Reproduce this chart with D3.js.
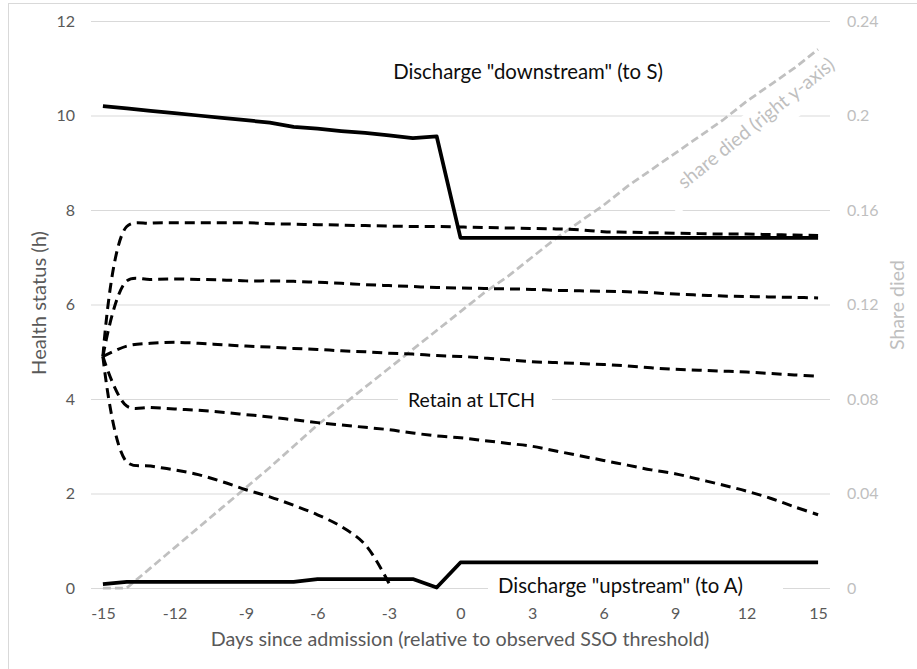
<!DOCTYPE html>
<html>
<head>
<meta charset="utf-8">
<script src="https://cdn.jsdelivr.net/npm/d3@7/dist/d3.min.js"></script>
<style>
  body { margin: 0; background: #fff; }
  text { font-family: Lato, 'Open Sans', sans-serif; }
</style>
</head>
<body>
<script>
// categories: days relative to the observed SSO threshold
var days = [-15, -14, -13, -12, -11, -10, -9, -8, -7, -6, -5, -4, -3, -2, -1, 0,
  1, 2, 3, 4, 5, 6, 7, 8, 9, 10, 11, 12, 13, 14, 15]
var xTicks = [-15, -12, -9, -6, -3, 0, 3, 6, 9, 12, 15]
var leftTicks = [0, 2, 4, 6, 8, 10, 12]
var rightTicks = [0, 0.04, 0.08, 0.12, 0.16, 0.2, 0.24]

// health status thresholds (left axis)
var downstream = [10.2, 10.15, 10.1, 10.05, 10.0, 9.95, 9.9, 9.85, 9.76, 9.72, 9.67, 9.63, 9.58, 9.52, 9.56,
  7.41, 7.41, 7.41, 7.41, 7.41, 7.41, 7.41, 7.41, 7.41, 7.41, 7.41, 7.41, 7.41, 7.41, 7.41, 7.41]
var upstream = [0.08, 0.13, 0.13, 0.13, 0.13, 0.13, 0.13, 0.13, 0.13, 0.19, 0.19, 0.19, 0.19, 0.19, 0.01,
  0.54, 0.54, 0.54, 0.54, 0.54, 0.54, 0.54, 0.54, 0.54, 0.54, 0.54, 0.54, 0.54, 0.54, 0.54, 0.54]
var retainA = [4.9, 7.65, 7.72, 7.73, 7.73, 7.73, 7.73, 7.71, 7.7, 7.69, 7.68, 7.67, 7.66, 7.65, 7.65, 7.64,
  7.63, 7.62, 7.61, 7.6, 7.58, 7.54, 7.53, 7.52, 7.51, 7.5, 7.49, 7.49, 7.48, 7.47, 7.46]
var retainB = [4.9, 6.5, 6.53, 6.54, 6.53, 6.52, 6.5, 6.5, 6.49, 6.47, 6.45, 6.42, 6.4, 6.38, 6.36, 6.35,
  6.34, 6.33, 6.32, 6.3, 6.29, 6.28, 6.27, 6.25, 6.22, 6.2, 6.18, 6.17, 6.16, 6.15, 6.14]
var retainC = [4.9, 5.12, 5.18, 5.2, 5.18, 5.15, 5.12, 5.1, 5.07, 5.05, 5.02, 5.0, 4.97, 4.95, 4.92, 4.9,
  4.87, 4.83, 4.79, 4.77, 4.75, 4.73, 4.7, 4.66, 4.63, 4.61, 4.59, 4.57, 4.54, 4.51, 4.48]
var retainD = [4.9, 3.85, 3.82, 3.79, 3.76, 3.72, 3.67, 3.62, 3.56, 3.5, 3.45, 3.4, 3.35, 3.28, 3.22, 3.18,
  3.12, 3.06, 3.0, 2.9, 2.8, 2.7, 2.6, 2.5, 2.42, 2.3, 2.18, 2.05, 1.9, 1.72, 1.55]
var retainE = [4.9, 2.67, 2.58, 2.5, 2.4, 2.25, 2.08, 1.93, 1.75, 1.55, 1.3, 0.92, 0.1]

// share died (right axis)
var shareDied = [0, 0, 0.0085, 0.017, 0.0255, 0.034, 0.0425, 0.051, 0.06, 0.069, 0.077, 0.085, 0.093, 0.101,
  0.109, 0.117, 0.125, 0.132, 0.14, 0.148, 0.155, 0.162, 0.17, 0.177, 0.184, 0.191, 0.198, 0.206, 0.213, 0.22, 0.228]

var W = 917
var H = 669
var svg = d3.select('body').append('svg')
  .attr('width', W)
  .attr('height', H)

var x = d3.scalePoint().domain(days).range([91, 830]).padding(0.5)
var y = d3.scaleLinear().domain([0, 12]).range([588, 21])
var y2 = d3.scaleLinear().domain([0, 0.24]).range([588, 21])

// chart frame (only top and left edges are inside the picture)
svg.append('rect')
  .attr('x', 8.5).attr('y', 3.5)
  .attr('width', 1000).attr('height', 1000)
  .attr('fill', 'none')
  .attr('stroke', '#d9d9d9')

// left axis with gridlines
var gLeft = svg.append('g')
  .attr('transform', 'translate(91,0)')
  .call(d3.axisLeft(y).tickValues(leftTicks).tickSize(-739).tickPadding(16))
gLeft.select('.domain').remove()
gLeft.selectAll('line').attr('stroke', '#d9d9d9')
gLeft.selectAll('text').attr('fill', '#595959').attr('font-size', 16).attr('font-family', 'Lato')

// right axis
var gRight = svg.append('g')
  .attr('transform', 'translate(830,0)')
  .call(d3.axisRight(y2).tickValues(rightTicks).tickSize(0).tickPadding(17).tickFormat(function (d) { return String(d) }))
gRight.select('.domain').remove()
gRight.selectAll('text').attr('fill', '#bfbfbf').attr('font-size', 16).attr('font-family', 'Lato')

// bottom axis
var gBottom = svg.append('g')
  .attr('transform', 'translate(0,588)')
  .call(d3.axisBottom(x).tickValues(xTicks).tickSize(0).tickPadding(20))
gBottom.select('.domain').remove()
gBottom.selectAll('text').attr('fill', '#595959').attr('font-size', 16).attr('font-family', 'Lato')

function fitWidth (sel, w) {
  var len = sel.node().getComputedTextLength()
  var fs = parseFloat(sel.attr('font-size'))
  sel.attr('font-size', fs * w / len)
  return sel
}

// axis titles
fitWidth(svg.append('text')
  .attr('x', 460).attr('y', 646)
  .attr('text-anchor', 'middle')
  .attr('fill', '#595959')
  .attr('font-size', 18)
  .text('Days since admission (relative to observed SSO threshold)'), 499)

fitWidth(svg.append('text')
  .attr('transform', 'translate(46,303) rotate(-90)')
  .attr('text-anchor', 'middle')
  .attr('fill', '#595959')
  .attr('font-size', 18)
  .text('Health status (h)'), 144)

fitWidth(svg.append('text')
  .attr('transform', 'translate(904,305) rotate(-90)')
  .attr('text-anchor', 'middle')
  .attr('fill', '#bfbfbf')
  .attr('font-size', 18)
  .text('Share died'), 90)

// white label boxes hiding the gridlines
svg.append('rect').attr('x', 398).attr('y', 388).attr('width', 154).attr('height', 26).attr('fill', '#fff')
svg.append('rect').attr('x', 488).attr('y', 573).attr('width', 295).attr('height', 27).attr('fill', '#fff')
var gShare = svg.append('g').attr('transform', 'translate(756,123) rotate(-39)')
gShare.append('rect').attr('x', -118).attr('y', -14).attr('width', 228).attr('height', 36).attr('fill', '#fff')

// series
function pts (arr) {
  return days.map(function (d, i) { return [d, arr[i]] })
}
var lineLeft = d3.line()
  .defined(function (d) { return d[1] != null })
  .x(function (d) { return x(d[0]) })
  .y(function (d) { return y(d[1]) })
var smoothLeft = d3.line()
  .defined(function (d) { return d[1] != null })
  .x(function (d) { return x(d[0]) })
  .y(function (d) { return y(d[1]) })
  .curve(d3.curveCatmullRom.alpha(0.5))
var lineRight = d3.line()
  .x(function (d) { return x(d[0]) })
  .y(function (d) { return y2(d[1]) })

svg.append('path')
  .attr('d', lineRight(pts(shareDied)))
  .attr('fill', 'none')
  .attr('stroke', '#c0c0c0')
  .attr('stroke-width', 2.75)
  .attr('stroke-dasharray', '8,4')

var retain = [retainA, retainB, retainC, retainD, retainE]
retain.forEach(function (arr) {
  svg.append('path')
    .attr('d', smoothLeft(pts(arr)))
    .attr('fill', 'none')
    .attr('stroke', '#000')
    .attr('stroke-width', 3)
    .attr('stroke-dasharray', '10,6')
})

;[downstream, upstream].forEach(function (arr) {
  svg.append('path')
    .attr('d', lineLeft(pts(arr)))
    .attr('fill', 'none')
    .attr('stroke', '#000')
    .attr('stroke-width', 3.75)
    .attr('stroke-linejoin', 'round')
})

// annotations
fitWidth(svg.append('text')
  .attr('x', 528).attr('y', 79)
  .attr('text-anchor', 'middle')
  .attr('fill', '#0d0d0d')
  .attr('font-size', 19)
  .text('Discharge "downstream" (to S)'), 270)

fitWidth(svg.append('text')
  .attr('x', 471.5).attr('y', 407)
  .attr('text-anchor', 'middle')
  .attr('fill', '#0d0d0d')
  .attr('font-size', 19)
  .text('Retain at LTCH'), 127)

fitWidth(svg.append('text')
  .attr('x', 620.5).attr('y', 593)
  .attr('text-anchor', 'middle')
  .attr('fill', '#0d0d0d')
  .attr('font-size', 19)
  .text('Discharge "upstream" (to A)'), 245)

fitWidth(gShare.append('text')
  .attr('x', 0).attr('y', 0)
  .attr('dy', '0.35em')
  .attr('text-anchor', 'middle')
  .attr('fill', '#bfbfbf')
  .attr('font-size', 15)
  .text('share died (right y-axis)'), 195)
</script>
</body>
</html>
